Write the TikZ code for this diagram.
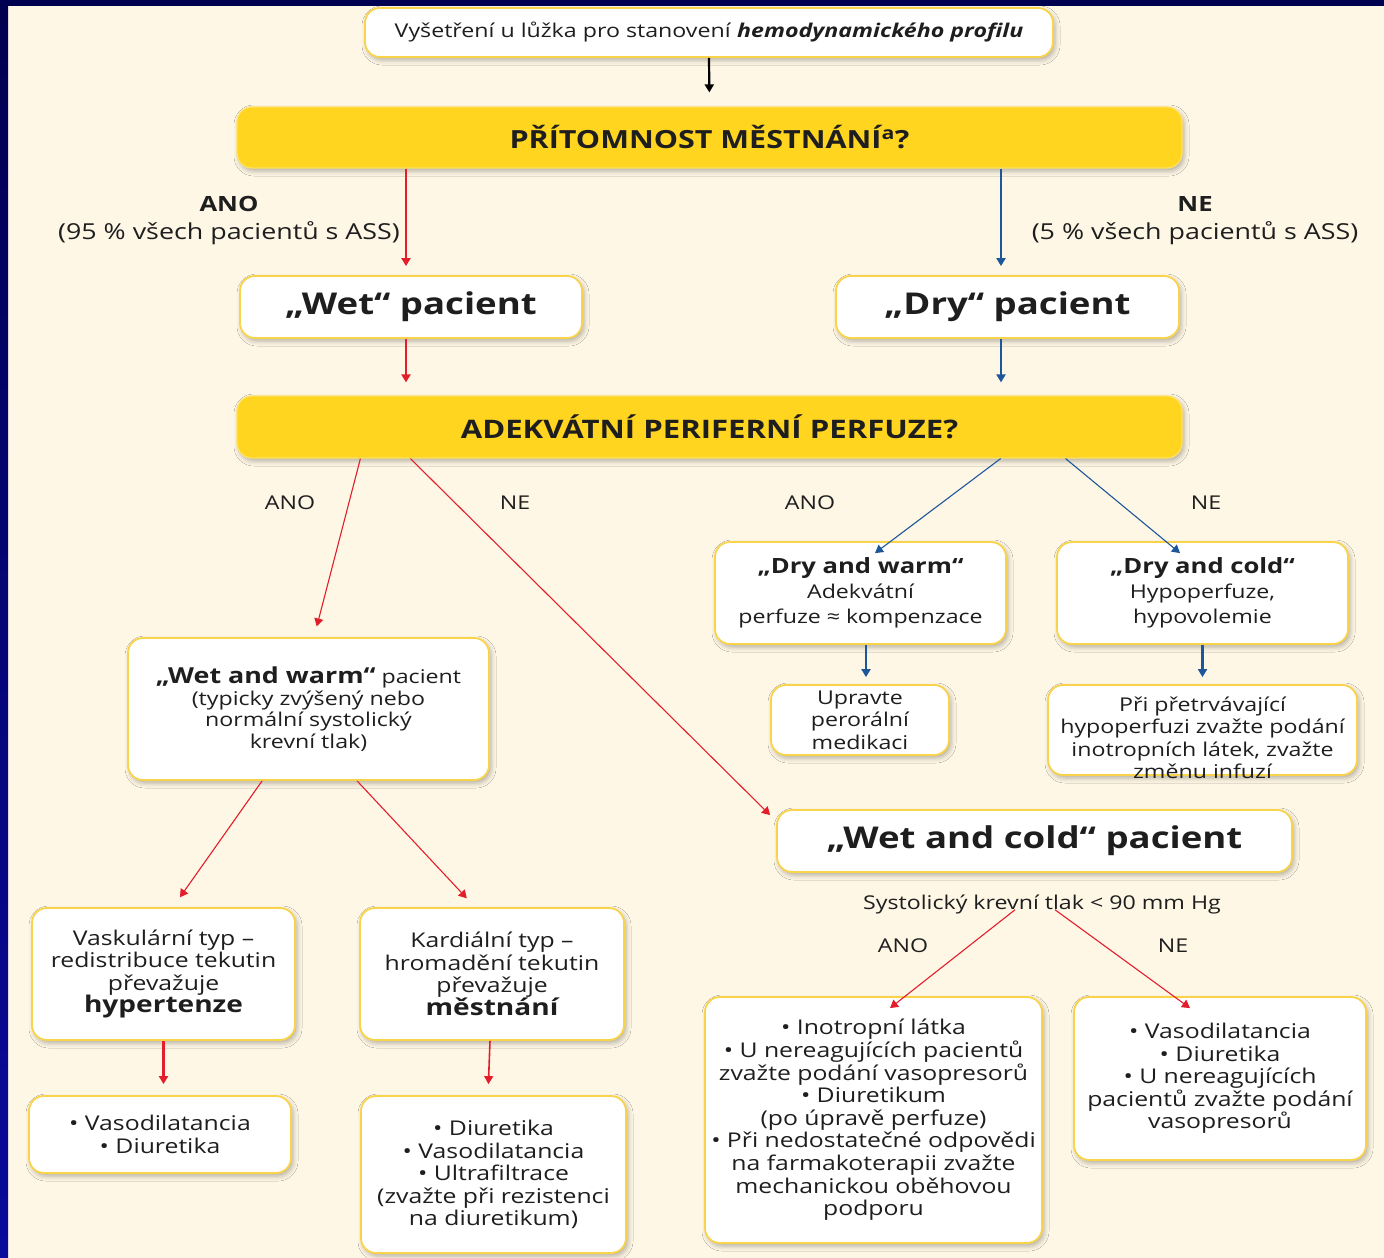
\documentclass[tikz,border=0pt]{standalone}
\usepackage{fontspec}
\setmainfont{Open Sans}[FakeStretch=1.22]
\usetikzlibrary{arrows.meta,shadows.blur,calc}
\definecolor{bgc}{HTML}{FEF7E6}
\definecolor{navy}{HTML}{000050}
\definecolor{navyb}{HTML}{0A0A9C}
\definecolor{boxborder}{HTML}{F9D34A}
\definecolor{gold}{HTML}{FFD51F}
\definecolor{redc}{HTML}{E31E2B}
\definecolor{bluec}{HTML}{1D5799}
\definecolor{txt}{HTML}{1E1E1E}
\begin{document}
\begin{tikzpicture}[x=1pt,y=-1pt,
  shad/.style={blur shadow={shadow xshift=2pt, shadow yshift=-3pt, shadow blur radius=5pt, shadow opacity=30}},
  wbox/.style={shad, draw=boxborder, line width=1.8pt, fill=white, rounded corners=15pt, align=center, inner sep=0pt, text=txt},
  gbox/.style={shad, draw=gold!70!white, line width=1.2pt, fill=gold, rounded corners=15pt, align=center, inner sep=0pt, text=txt},
  body/.style={font=\fontsize{19}{22.5}\selectfont},
  bodyb/.style={font=\fontsize{20.3}{22.6}\selectfont},
  lbl/.style={text=txt, inner sep=0pt, align=center},
  tip/.style={-{Triangle[width=9pt,length=8pt]}},
  redthick/.style={tip, draw=redc, line width=2.6pt},
  redthin/.style={tip, draw=redc, line width=1.1pt},
  bluethick/.style={tip, draw=bluec, line width=2.6pt},
  bluethin/.style={tip, draw=bluec, line width=1.1pt},
]
\useasboundingbox (0,0) rectangle (1384,1258);
\fill[bgc] (0,0) rectangle (1384,1258);
\fill[navy] (0,0) rectangle (1384,6);
\shade[top color=navy, bottom color=navyb] (0,0) rectangle (8,1258);

% nodes
\node[wbox, minimum width=688pt, minimum height=49pt, font=\fontsize{19}{22}\selectfont] (top) at (709,32.5)
  {Vyšetření u lůžka pro stanovení \textbf{\textit{hemodynamického profilu}}};
\node[gbox, minimum width=945pt, minimum height=61pt, font=\fontsize{25}{28}\selectfont\bfseries] (q1) at (709.5,137.5)
  {PŘÍTOMNOST MĚSTNÁNÍ\textsuperscript{a}?};
\node[wbox, minimum width=342pt, minimum height=62pt, font=\fontsize{30}{34}\selectfont\bfseries] (wet) at (411,307)
  {„Wet“ pacient};
\node[wbox, minimum width=343pt, minimum height=62pt, font=\fontsize{30}{34}\selectfont\bfseries] (dry) at (1007.5,307)
  {„Dry“ pacient};
\node[gbox, minimum width=945pt, minimum height=62pt, font=\fontsize{25.5}{28}\selectfont\bfseries] (q2) at (709.5,427)
  {ADEKVÁTNÍ PERIFERNÍ PERFUZE?};
\node[wbox, font=\fontsize{19}{25}\selectfont, minimum width=291pt, minimum height=102pt] (drywarm) at (860.5,593)
  {{\fontsize{21}{25}\selectfont\bfseries „Dry and warm“}\\Adekvátní\\perfuze ≈ kompenzace};
\node[wbox, font=\fontsize{19}{25}\selectfont, minimum width=291pt, minimum height=102pt] (drycold) at (1202.5,593)
  {{\fontsize{21}{25}\selectfont\bfseries „Dry and cold“}\\Hypoperfuze,\\hypovolemie};
\node[wbox, body, minimum width=178pt, minimum height=70pt] (upravte) at (860,720)
  {Upravte\\perorální\\medikaci};
\node[wbox, minimum width=309pt, minimum height=90pt] (pri) at (1202.5,730) {};
\node[lbl, body] (pritext) at (1202.5,738)
  {Při přetrvávající\\hypoperfuzi zvažte podání\\inotropních látek, zvažte\\změnu infuzí};
\node[wbox, font=\fontsize{19}{21.5}\selectfont, minimum width=361pt, minimum height=142pt] (wetwarm) at (308.5,709)
  {{\fontsize{22}{21.5}\selectfont\bfseries „Wet and warm“} pacient\\(typicky zvýšený nebo\\normální systolický\\krevní tlak)};
\node[wbox, minimum width=515pt, minimum height=62pt, font=\fontsize{30}{34}\selectfont\bfseries] (wetcold) at (1034.5,841)
  {„Wet and cold“ pacient};
\node[lbl, font=\fontsize{19}{22}\selectfont] (sys) at (1042,904) {Systolický krevní tlak < 90 mm Hg};
\node[wbox, bodyb, minimum width=263pt, minimum height=132pt] (vask) at (163.5,974)
  {Vaskulární typ –\\redistribuce tekutin\\převažuje\\{\fontsize{23}{23}\selectfont\bfseries hypertenze}};
\node[wbox, bodyb, minimum width=264pt, minimum height=132pt] (kard) at (492,974)
  {Kardiální typ –\\hromadění tekutin\\převažuje\\{\fontsize{23}{23}\selectfont\bfseries městnání}};
\node[wbox, bodyb, minimum width=262pt, minimum height=77pt] (vasoL) at (160,1134.5)
  {• Vasodilatancia\\• Diuretika};
\node[wbox, bodyb, minimum width=265pt, minimum height=157pt] (diurL) at (493.5,1174.5)
  {• Diuretika\\• Vasodilatancia\\• Ultrafiltrace\\(zvažte při rezistenci\\na diuretikum)};
\node[wbox, bodyb, minimum width=337pt, minimum height=246pt] (ino) at (873.5,1120)
  {• Inotropní látka\\• U nereagujících pacientů\\zvažte podání vasopresorů\\• Diuretikum\\(po úpravě perfuze)\\• Při nedostatečné odpovědi\\na farmakoterapii zvažte\\mechanickou oběhovou\\podporu};
\node[wbox, bodyb, minimum width=292pt, minimum height=163pt] (vasoR) at (1220,1078.5)
  {• Vasodilatancia\\• Diuretika\\• U nereagujících\\pacientů zvažte podání\\vasopresorů};

% labels
\node[lbl, font=\fontsize{21}{24}\selectfont\bfseries] (anoA) at (229,204) {ANO};
\node[lbl, font=\fontsize{22}{24}\selectfont] (anoAt) at (229,233) {(95 \% všech pacientů s ASS)};
\node[lbl, font=\fontsize{21}{24}\selectfont\bfseries] (neA) at (1195,204) {NE};
\node[lbl, font=\fontsize{22}{24}\selectfont] (neAt) at (1195,233) {(5 \% všech pacientů s ASS)};
\node[lbl, font=\fontsize{19}{20}\selectfont] (anoB) at (290,503) {ANO};
\node[lbl, font=\fontsize{19}{20}\selectfont] (neB) at (515,503) {NE};
\node[lbl, font=\fontsize{19}{20}\selectfont] (anoC) at (810,503) {ANO};
\node[lbl, font=\fontsize{19}{20}\selectfont] (neC) at (1206,503) {NE};
\node[lbl, font=\fontsize{19}{22}\selectfont] (anoD) at (903,946) {ANO};
\node[lbl, font=\fontsize{19}{22}\selectfont] (neD) at (1173,946) {NE};

% connectors
\draw[tip, draw=black, line width=2.2pt, shorten >=14pt] (top.south) -- (q1.north);
\draw[redthick, shorten >=9pt] ([xshift=-303.5pt]q1.south) -- ([xshift=-5pt]wet.north);
\draw[bluethick, shorten >=9pt] ([xshift=291.5pt]q1.south) -- ([xshift=-6.5pt]dry.north);
\draw[redthick, shorten >=13pt] ([xshift=-5pt]wet.south) -- ([xshift=-303.5pt]q2.north);
\draw[bluethick, shorten >=13pt] ([xshift=-6.5pt]dry.south) -- ([xshift=291.5pt]q2.north);
\draw[redthin, shorten >=11pt] ([xshift=124pt]q2.south west) -- ([xshift=5.5pt]wetwarm.north);
\draw[redthin] ([xshift=174pt]q2.south west) -- ([xshift=-6pt,yshift=-6pt]wetcold.north west);
\draw[bluethin] ([xshift=-182pt]q2.south east) -- ([xshift=14.5pt,yshift=-12pt]drywarm.north);
\draw[bluethin] ([xshift=-117pt]q2.south east) -- ([xshift=-22.5pt,yshift=-12pt]drycold.north);
\draw[bluethick, shorten >=7pt] ([xshift=5.5pt]drywarm.south) -- ([xshift=6pt]upravte.north);
\draw[bluethick, shorten >=7pt] (drycold.south) -- (pri.north);
\draw[redthin, shorten >=12pt] ([xshift=135pt]wetwarm.south west) -- ([xshift=9.5pt]vask.north);
\draw[redthin, shorten >=12pt] ([xshift=230pt]wetwarm.south west) -- ([xshift=-17pt]kard.north);
\draw[redthin] ([xshift=-27pt,yshift=4pt]sys.south) -- ([xshift=16.5pt,yshift=-12pt]ino.north);
\draw[redthin] ([xshift=13pt,yshift=4pt]sys.south) -- ([xshift=-30pt,yshift=-12pt]vasoR.north);
\draw[redthick, shorten >=11pt] (vask.south) -- ([xshift=3.5pt]vasoL.north);
\draw[tip, draw=redc, line width=1.6pt, shorten >=11pt] ([xshift=-2pt]kard.south) -- ([xshift=-5.5pt]diurL.north);
\end{tikzpicture}
\end{document}
